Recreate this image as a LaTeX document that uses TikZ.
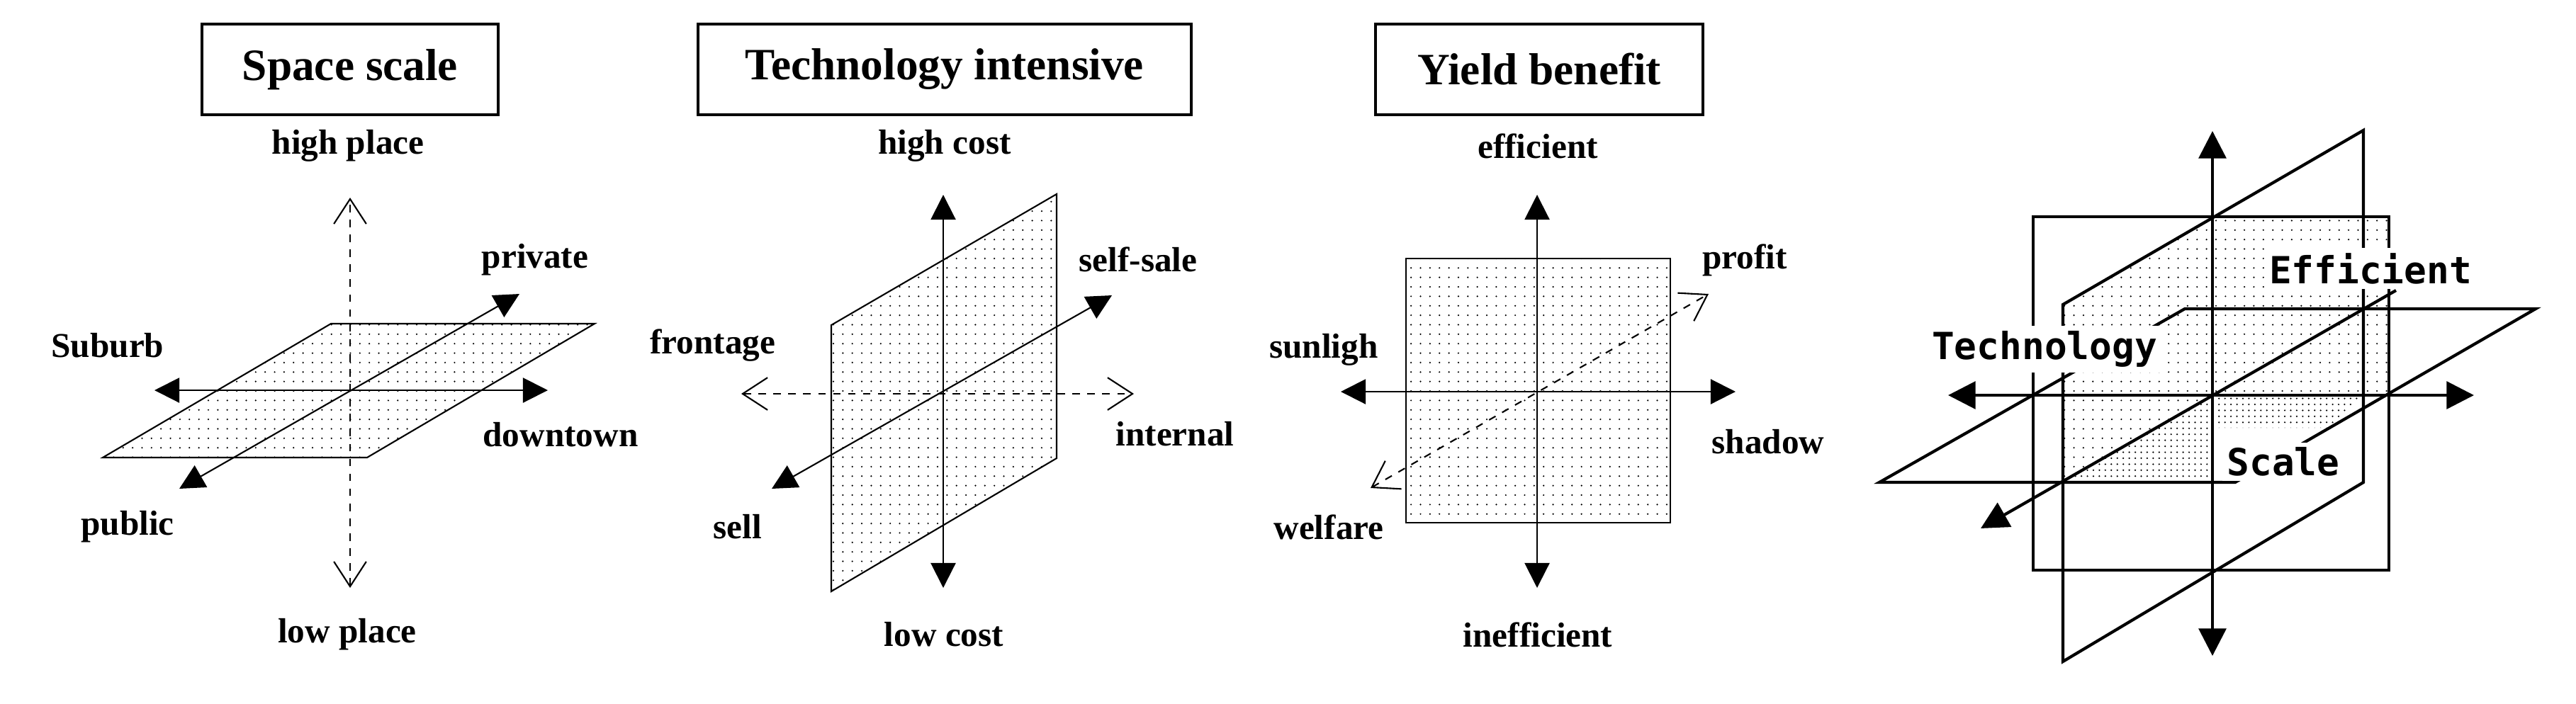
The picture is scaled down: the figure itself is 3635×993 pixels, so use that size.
\documentclass[tikz,border=0pt]{standalone}
\usepackage{fontspec}
\setmainfont{Liberation Serif}
\newfontfamily\monofont{DejaVu Sans Mono}
\usetikzlibrary{arrows.meta,patterns.meta}
\begin{document}
\begin{tikzpicture}[x=0.01cm,y=-0.01cm,
  lbl/.style={font=\fontsize{14}{16}\selectfont\bfseries,inner sep=1pt},
  ttl/.style={draw,line width=1.2pt,font=\fontsize{18}{20}\selectfont\bfseries,minimum height=1.28cm,inner sep=0pt},
  thin/.style={line width=0.6pt},
  dotfill/.style={pattern={Dots[distance=3.8pt,radius=0.35pt]}},
  densefill/.style={pattern={Dots[distance=2.4pt,radius=0.35pt]}},
  fab/.style={{Triangle[length=10pt,width=10pt]}-{Triangle[length=10pt,width=10pt]}},
  oab/.style={{Straight Barb[length=10pt,width=13pt]}-{Straight Barb[length=10pt,width=13pt]}},
  big/.style={line width=1.2pt},
  bfa/.style={{Triangle[length=11pt,width=11pt]}-{Triangle[length=11pt,width=11pt]}},
  mlbl/.style={font=\monofont\bfseries\fontsize{15}{17}\selectfont,fill=white,inner sep=2pt}]
\useasboundingbox (0,0) rectangle (3635,993);
% ---------- Panel 1
\node[ttl,minimum width=4.18cm] (t1) at (494,98) {Space scale};
\coordinate (p1a) at (467,457); \coordinate (p1b) at (839,457);
\coordinate (p1c) at (518,646); \coordinate (p1d) at (145,646);
\draw[thin,dotfill] (p1a) -- (p1b) -- (p1c) -- (p1d) -- cycle;
\coordinate (v1t) at (494,279); \coordinate (v1b) at (494,830);
\draw[thin,dashed,oab] (v1b) -- (v1t);
\coordinate (h1l) at (218,551); \coordinate (h1r) at (773,551);
\draw[thin,fab] (h1l) -- (h1r);
\coordinate (d1l) at (253,690); \coordinate (d1r) at (733,415);
\draw[thin,fab] (d1l) -- (d1r);
\node[lbl] (hp) at (491,206) {high place};
\node[lbl] (lp) at (490,896) {low place};
\node[lbl] (sub) at (152,488) {Suburb};
\node[lbl] (dt) at (791,614) {downtown};
\node[lbl] (pri) at (755,367) {private};
\node[lbl] (pub) at (180,744) {public};
% ---------- Panel 2
\node[ttl,minimum width=6.95cm] (t2) at (1333,98) {Technology intensive};
\coordinate (p2a) at (1173,459); \coordinate (p2b) at (1491,274);
\coordinate (p2c) at (1491,647); \coordinate (p2d) at (1173,835);
\draw[thin,dotfill] (p2a) -- (p2b) -- (p2c) -- (p2d) -- cycle;
\coordinate (h2l) at (1046,556); \coordinate (h2r) at (1600,556);
\draw[thin,dashed,oab] (h2l) -- (h2r);
\coordinate (v2t) at (1331,275); \coordinate (v2b) at (1331,830);
\draw[thin,fab] (v2b) -- (v2t);
\coordinate (d2l) at (1089,690); \coordinate (d2r) at (1569,417);
\draw[thin,fab] (d2l) -- (d2r);
\node[lbl] (hc) at (1333,206) {high cost};
\node[lbl] (lc) at (1332,896) {low cost};
\node[lbl] (ss) at (1606,366) {self-sale};
\node[lbl] (fr) at (1006,488) {frontage};
\node[lbl] (in) at (1658,613) {internal};
\node[lbl] (se) at (1041,744) {sell};
% ---------- Panel 3
\node[ttl,minimum width=4.62cm] (t3) at (2172,98) {Yield benefit};
\draw[thin,dotfill] (1984,365) rectangle (2357,738);
\coordinate (v3t) at (2169,275); \coordinate (v3b) at (2169,830);
\draw[thin,fab] (v3b) -- (v3t);
\coordinate (h3l) at (1892,553); \coordinate (h3r) at (2449,553);
\draw[thin,fab] (h3l) -- (h3r);
\coordinate (d3l) at (1934,689); \coordinate (d3r) at (2411,415);
\draw[thin,dashed,oab] (d3l) -- (d3r);
\node[lbl] (ef) at (2170,206) {efficient};
\node[lbl] (ie) at (2170,896) {inefficient};
\node[lbl] (pr) at (2462,367) {profit};
\node[lbl] (su) at (1868,494) {sunligh};
\node[lbl] (sh) at (2495,624) {shadow};
\node[lbl] (we) at (1875,744) {welfare};
% ---------- Panel 4
\fill[dotfill] (3122,306) rectangle (3371,558);
\fill[dotfill] (2911,430) -- (3122,306) -- (3122,558) -- (2911,681) -- cycle;
\fill[densefill] (2911,681) -- (3122,558) -- (3122,681) -- cycle;
\fill[densefill] (3122,558) -- (3335,558) -- (3287,604) -- (3122,604) -- cycle;
\draw[big] (2869,306) rectangle (3371,805);
\coordinate (q1) at (2911,430); \coordinate (q2) at (3335,184);
\coordinate (q3) at (3335,681); \coordinate (q4) at (2911,934);
\draw[big] (q1) -- (q2) -- (q3) -- (q4) -- cycle;
\coordinate (r1) at (2652,681); \coordinate (r2) at (3083,436);
\coordinate (r3) at (3578,436); \coordinate (r4) at (3154,681);
\draw[big] (r1) -- (r2) -- (r3) -- (r4) -- cycle;
\coordinate (v4t) at (3122,185); \coordinate (v4b) at (3122,926);
\draw[big,bfa] (v4b) -- (v4t);
\coordinate (h4l) at (2749,558); \coordinate (h4r) at (3491,558);
\draw[big,bfa] (h4l) -- (h4r);
\coordinate (d4l) at (2795,746); \coordinate (d4r) at (3381,410);
\draw[big,-{Triangle[length=11pt,width=11pt]}] (d4r) -- (d4l);
\node[mlbl] (m1) at (3345,379) {Efficient};
\node[mlbl] (m2) at (2885,493) {Technology};
\node[mlbl] (m3) at (3222,652) {Scale};
\end{tikzpicture}
\end{document}
